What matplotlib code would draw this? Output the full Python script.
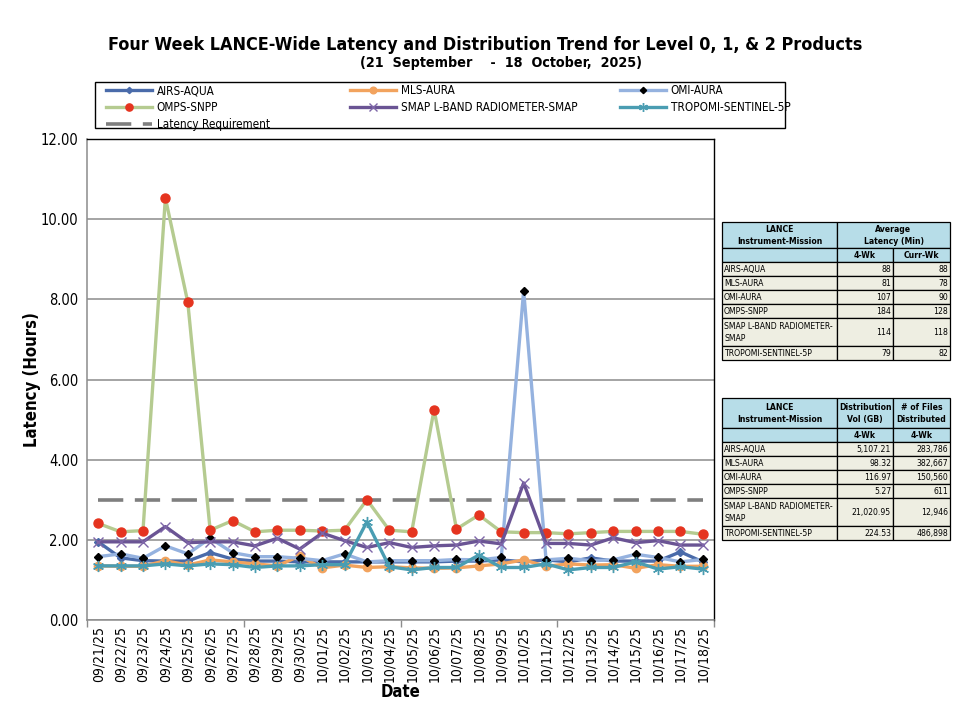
import os
import numpy as np
import matplotlib
matplotlib.use("Agg")
import matplotlib.pyplot as plt
from matplotlib.patches import Rectangle
from matplotlib import font_manager
from matplotlib.font_manager import FontProperties

# ---------------- data ----------------
dates = ['09/21/25', '09/22/25', '09/23/25', '09/24/25', '09/25/25', '09/26/25', '09/27/25',
         '09/28/25', '09/29/25', '09/30/25', '10/01/25', '10/02/25', '10/03/25', '10/04/25',
         '10/05/25', '10/06/25', '10/07/25', '10/08/25', '10/09/25', '10/10/25', '10/11/25',
         '10/12/25', '10/13/25', '10/14/25', '10/15/25', '10/16/25', '10/17/25', '10/18/25']

airs_aqua = [1.95, 1.55, 1.48, 1.47, 1.47, 1.68, 1.52, 1.47, 1.47, 1.45, 1.45, 1.45, 1.45, 1.45,
             1.45, 1.45, 1.47, 1.47, 1.50, 1.45, 1.50, 1.45, 1.55, 1.47, 1.47, 1.47, 1.70, 1.45]
mls_aura = [1.35, 1.34, 1.34, 1.48, 1.37, 1.50, 1.45, 1.40, 1.35, 1.60, 1.30, 1.37, 1.31, 1.33,
            1.30, 1.29, 1.30, 1.35, 1.40, 1.50, 1.34, 1.40, 1.37, 1.38, 1.29, 1.38, 1.34, 1.34]
omi_aura = [1.58, 1.65, 1.54, 1.85, 1.65, 2.04, 1.68, 1.58, 1.58, 1.54, 1.48, 1.65, 1.45, 1.48,
            1.48, 1.48, 1.51, 1.50, 1.56, 8.22, 1.50, 1.54, 1.48, 1.50, 1.64, 1.56, 1.45, 1.51]
omps_snpp = [2.41, 2.20, 2.23, 10.53, 7.93, 2.24, 2.48, 2.20, 2.24, 2.24, 2.22, 2.24, 3.00, 2.24,
             2.20, 5.25, 2.27, 2.62, 2.20, 2.18, 2.18, 2.15, 2.18, 2.21, 2.21, 2.21, 2.21, 2.14]
smap = [1.95, 1.95, 1.95, 2.33, 1.93, 1.95, 1.95, 1.85, 2.04, 1.77, 2.17, 1.98, 1.81, 1.93,
        1.81, 1.85, 1.87, 1.97, 1.90, 3.42, 1.91, 1.91, 1.87, 2.05, 1.93, 1.98, 1.87, 1.87]
tropomi = [1.35, 1.35, 1.35, 1.40, 1.35, 1.40, 1.38, 1.31, 1.35, 1.35, 1.38, 1.38, 2.45, 1.33,
           1.25, 1.31, 1.31, 1.62, 1.31, 1.31, 1.40, 1.25, 1.31, 1.31, 1.45, 1.27, 1.33, 1.27]
latency_requirement = 3.0

series_names = ['AIRS-AQUA', 'MLS-AURA', 'OMI-AURA', 'OMPS-SNPP',
                'SMAP L-BAND RADIOMETER-SMAP', 'TROPOMI-SENTINEL-5P']

# table 1: average latency (min)
t1_names = ['AIRS-AQUA', 'MLS-AURA', 'OMI-AURA', 'OMPS-SNPP',
            'SMAP L-BAND RADIOMETER-\nSMAP', 'TROPOMI-SENTINEL-5P']
t1_4wk = ['88', '81', '107', '184', '114', '79']
t1_curr = ['88', '78', '90', '128', '118', '82']
# table 2: distribution
t2_vol = ['5,107.21', '98.32', '116.97', '5.27', '21,020.95', '224.53']
t2_files = ['283,786', '382,667', '150,560', '611', '12,946', '486,898']

# ---------------- fonts ----------------
def find_font(names):
    files = {os.path.basename(f.fname).lower(): f.fname for f in font_manager.fontManager.ttflist}
    for n in names:
        if n in files:
            return files[n]
    return None


reg_path = find_font(['liberationsansnarrow-regular.ttf', 'dejavusanscondensed.ttf',
                      'robotocondensed-regular.ttf', 'opensans_condensed-regular.ttf'])
bold_path = find_font(['liberationsansnarrow-bold.ttf', 'dejavusanscondensed-bold.ttf',
                       'robotocondensed-bold.ttf', 'opensans_condensed-bold.ttf'])


def fp(size, bold=False):
    path = bold_path if bold else reg_path
    if path:
        return FontProperties(fname=path, size=size)
    return FontProperties(family='DejaVu Sans', size=size, weight='bold' if bold else 'normal')


W, H = 972, 725
fig = plt.figure(figsize=(W / 100, H / 100), dpi=100)
fig.patch.set_facecolor('white')
renderer = fig.canvas.get_renderer()


def fit(t, target):
    w = t.get_window_extent(renderer=renderer).width
    t.set_fontsize(t.get_fontsize() * target / w)


ax = fig.add_axes([87 / W, 1 - 620 / H, (714 - 87) / W, (620 - 139) / H])
x = np.arange(len(dates))

styles = [
    dict(color='#4A6BAA', marker='D', ms=4, mfc='#4A6BAA', mec='#4A6BAA'),
    dict(color='#F2A35E', marker='o', ms=6, mfc='#F2A35E', mec='#F2A35E'),
    dict(color='#95B2DF', marker='D', ms=4, mfc='black', mec='black'),
    dict(color='#B5CB90', marker='o', ms=6.5, mfc='#E5341F', mec='#E5341F'),
    dict(color='#6A5494', marker='x', ms=7, mfc='#7E66A8', mec='#7E66A8', mew=1.0),
    dict(color='#4A9DB2', marker=(6, 2, 0), ms=8, mfc='#4A9DB2', mec='#4A9DB2', mew=1.0),
]
data = [airs_aqua, mls_aura, omi_aura, omps_snpp, smap, tropomi]
handles = []
for name, vals, st in zip(series_names, data, styles):
    h, = ax.plot(x, vals, lw=2.4, label=name, zorder=3, **st)
    handles.append(h)

hreq, = ax.plot(x, [latency_requirement] * len(x), color='#7F7F7F', lw=2.6,
                ls=(0, (7, 3.2)), label='Latency Requirement', zorder=2.5)

ax.set_xlim(-0.4, 27.5)
ax.set_ylim(0, 12)
yt = np.arange(0, 12.01, 2)
ax.set_yticks(yt)
ax.set_yticklabels([f'{v:.2f}' for v in yt])
for lab in ax.get_yticklabels():
    lab.set_fontproperties(fp(10.5))
ax.yaxis.grid(True, color='#8C8C8C', lw=1.1)
ax.set_axisbelow(True)
ax.set_xticks(x)
ax.set_xticklabels(dates, rotation=90)
for lab in ax.get_xticklabels():
    lab.set_fontproperties(fp(10))
ax.tick_params(axis='x', length=0, pad=4)
ax.tick_params(axis='y', length=0, pad=6)
ax.set_xticks(np.arange(-0.5, 28, 3.5), minor=True)
ax.tick_params(axis='x', which='minor', length=5, color='#8C8C8C', width=1)
for s in ['left', 'bottom']:
    ax.spines[s].set_color('#8C8C8C')
    ax.spines[s].set_linewidth(1.1)
for s in ['top', 'right']:
    ax.spines[s].set_color('black')
    ax.spines[s].set_linewidth(1.0)

ax.set_xlabel('Date', fontproperties=fp(12, True), labelpad=1)
ax.set_ylabel('Latency (Hours)', fontproperties=fp(12, True), labelpad=0)

# titles
t = fig.text(485 / W, 1 - 45 / H,
             'Four Week LANCE-Wide Latency and Distribution Trend for Level 0, 1, & 2 Products',
             ha='center', va='center', fontproperties=fp(14.5, True))
fit(t, 752)
t2 = fig.text(501 / W, 1 - 63 / H, '(21  September    -  18  October,  2025)',
              ha='center', va='center', fontproperties=fp(11, True))
fit(t2, 282)

# ---------------- overlay axes for legend frame & tables ----------------
tax = fig.add_axes([0, 0, 1, 1])
tax.set_xlim(0, W)
tax.set_ylim(H, 0)
tax.axis('off')

# legend: three columns placed explicitly
probe = fig.text(0, 0, 'SMAP L-BAND RADIOMETER-SMAP', fontproperties=fp(8.5))
fit(probe, 176)
leg_fs = probe.get_fontsize()
probe.remove()

cols = [([handles[0], handles[3], hreq], 106), ([handles[1], handles[4]], 350),
        ([handles[2], handles[5]], 620)]
for hs, x0 in cols:
    fig.legend(handles=hs, labels=[h.get_label() for h in hs], loc='upper left',
               bbox_to_anchor=(x0 / W, 1 - 84 / H), frameon=False,
               prop=fp(leg_fs), handlelength=46 / (leg_fs * 1.389), handletextpad=0.4,
               labelspacing=0.35, borderpad=0, borderaxespad=0, markerscale=0.8)
tax.add_patch(Rectangle((95, 82), 785 - 95, 46, facecolor='none', edgecolor='black', lw=1.0))

hdr_col = '#B7DDE8'
cell_col = '#EEEEE2'

# table font size fitting
probe = fig.text(0, 0, 'SMAP L-BAND RADIOMETER-', fontproperties=fp(7))
fit(probe, 112)
tfs = min(probe.get_fontsize(), 7.6)
probe.remove()
probe = fig.text(0, 0, 'Distribution', fontproperties=fp(7, True))
fit(probe, 53)
tfs = min(tfs, probe.get_fontsize())
probe.remove()


def cell(x0, y0, x1, y1, text='', color=cell_col, ha='center', bold=False):
    tax.add_patch(Rectangle((x0, y0), x1 - x0, y1 - y0, facecolor=color,
                            edgecolor='black', lw=0.9))
    if text:
        if ha == 'left':
            tx = x0 + 2
        elif ha == 'right':
            tx = x1 - 2
        else:
            tx = (x0 + x1) / 2
        tax.text(tx, (y0 + y1) / 2 + 0.5, text, ha=ha, va='center',
                 fontproperties=fp(tfs, bold), linespacing=1.3)


cx = [722, 837, 893, 950]

# table 1
cell(cx[0], 222, cx[1], 248, 'LANCE\nInstrument-Mission', hdr_col, bold=True)
cell(cx[0], 248, cx[1], 262, '', hdr_col)
cell(cx[1], 222, cx[3], 248, 'Average\nLatency (Min)', hdr_col, bold=True)
cell(cx[1], 248, cx[2], 262, '4-Wk', hdr_col, bold=True)
cell(cx[2], 248, cx[3], 262, 'Curr-Wk', hdr_col, bold=True)
rows1 = [262, 276, 290, 304, 318, 346, 360]
for i in range(6):
    y0, y1 = rows1[i], rows1[i + 1]
    cell(cx[0], y0, cx[1], y1, t1_names[i], ha='left')
    cell(cx[1], y0, cx[2], y1, t1_4wk[i], ha='right')
    cell(cx[2], y0, cx[3], y1, t1_curr[i], ha='right')

# table 2
cell(cx[0], 398, cx[1], 428, 'LANCE\nInstrument-Mission', hdr_col, bold=True)
cell(cx[0], 428, cx[1], 442, '', hdr_col)
cell(cx[1], 398, cx[2], 428, 'Distribution\nVol (GB)', hdr_col, bold=True)
cell(cx[2], 398, cx[3], 428, '# of Files\nDistributed', hdr_col, bold=True)
cell(cx[1], 428, cx[2], 442, '4-Wk', hdr_col, bold=True)
cell(cx[2], 428, cx[3], 442, '4-Wk', hdr_col, bold=True)
rows2 = [442, 456, 470, 484, 498, 526, 540]
for i in range(6):
    y0, y1 = rows2[i], rows2[i + 1]
    cell(cx[0], y0, cx[1], y1, t1_names[i], ha='left')
    cell(cx[1], y0, cx[2], y1, t2_vol[i], ha='right')
    cell(cx[2], y0, cx[3], y1, t2_files[i], ha='right')

fig.savefig('out.png', dpi=100)
